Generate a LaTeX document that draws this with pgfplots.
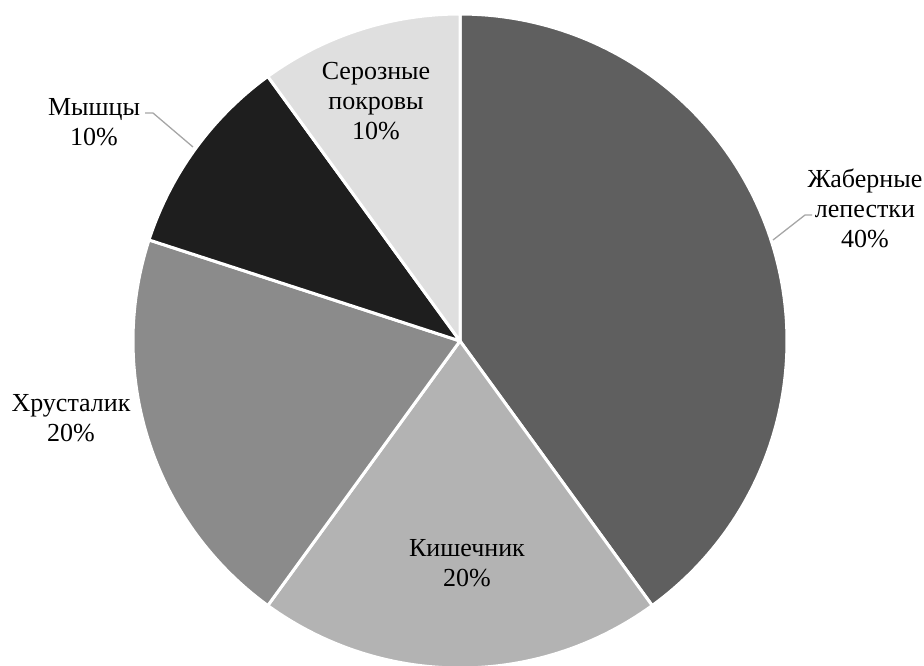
\documentclass[border=0pt]{standalone}
\usepackage{pgfplots}
\pgfplotsset{compat=1.18}
\usepackage{fontspec}
\setmainfont{Liberation Serif}

\definecolor{sliceA}{HTML}{5F5F5F}
\definecolor{sliceB}{HTML}{B3B3B3}
\definecolor{sliceC}{HTML}{8B8B8B}
\definecolor{sliceD}{HTML}{1E1E1E}
\definecolor{sliceE}{HTML}{DFDFDF}
\definecolor{leader}{HTML}{A6A6A6}

\tikzset{lbl/.style={font=\fontsize{26}{30}\selectfont, align=center, text=black}}

% shares in percent, clockwise from the top
\def\vA{40}\def\vB{20}\def\vC{20}\def\vD{10}\def\vE{10}
\pgfmathsetmacro\aA{90}
\pgfmathsetmacro\aB{\aA-3.6*\vA}
\pgfmathsetmacro\aC{\aB-3.6*\vB}
\pgfmathsetmacro\aD{\aC-3.6*\vC}
\pgfmathsetmacro\aE{\aD-3.6*\vD}
\pgfmathsetmacro\aF{\aE-3.6*\vE}
\def\cx{460}\def\cy{324}\def\R{327}

\begin{document}
\begin{tikzpicture}
\begin{axis}[
  scale only axis, width=924pt, height=665pt,
  xmin=0, xmax=924, ymin=0, ymax=665,
  hide axis, clip=true,
  every axis plot/.append style={draw=white, line width=3pt, line join=round},
]
\addplot[fill=sliceA, domain=\aB:\aA, samples=120] ({\cx+\R*cos(x)},{\cy+\R*sin(x)}) -- (axis cs:\cx,\cy) -- cycle;
\addplot[fill=sliceB, domain=\aC:\aB, samples=60] ({\cx+\R*cos(x)},{\cy+\R*sin(x)}) -- (axis cs:\cx,\cy) -- cycle;
\addplot[fill=sliceC, domain=\aD:\aC, samples=60] ({\cx+\R*cos(x)},{\cy+\R*sin(x)}) -- (axis cs:\cx,\cy) -- cycle;
\addplot[fill=sliceD, domain=\aE:\aD, samples=40] ({\cx+\R*cos(x)},{\cy+\R*sin(x)}) -- (axis cs:\cx,\cy) -- cycle;
\addplot[fill=sliceE, domain=\aF:\aE, samples=40] ({\cx+\R*cos(x)},{\cy+\R*sin(x)}) -- (axis cs:\cx,\cy) -- cycle;

% leader lines for the outside labels
\addplot[draw=leader, line width=1.3pt] coordinates {(773,425) (805,450) (812,450)};
\addplot[draw=leader, line width=1.3pt] coordinates {(145,552) (153,552) (193,518)};

\node[lbl] at (axis cs:865,457) {Жаберные\\лепестки\\\vA\%};
\node[lbl] at (axis cs:467,102) {Кишечник\\\vB\%};
\node[lbl] at (axis cs:71,247) {Хрусталик\\\vC\%};
\node[lbl] at (axis cs:94,543) {Мышцы\\\vD\%};
\node[lbl] at (axis cs:376,564) {Серозные\\покровы\\\vE\%};
\end{axis}
% the picture is exactly the plot area
\pgfresetboundingbox
\path (current axis.south west) rectangle (current axis.north east);
\end{tikzpicture}
\end{document}
